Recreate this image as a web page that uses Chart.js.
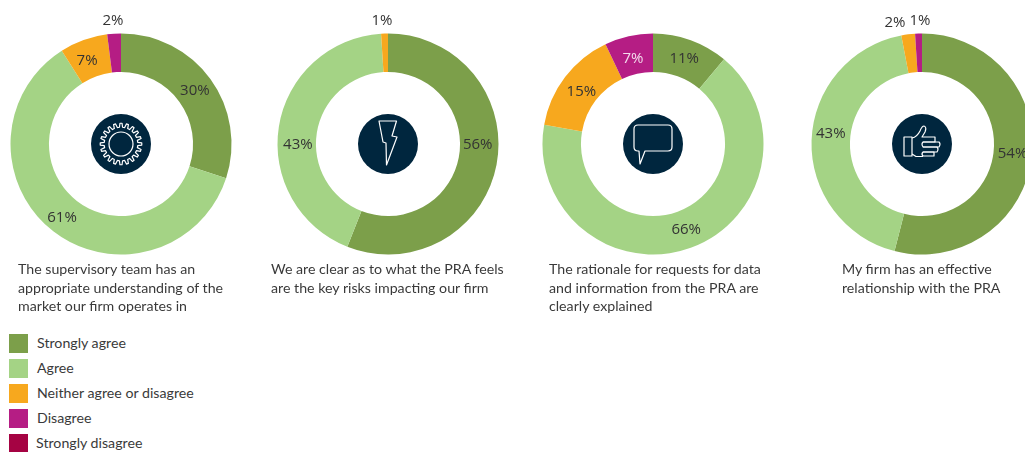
<!DOCTYPE html>
<html>
<head>
<meta charset="utf-8">
<script src="https://cdn.jsdelivr.net/npm/chart.js@4/dist/chart.umd.min.js"></script>
<style>
    html, body { margin: 0; padding: 0; background: #fff; }
    body { position: relative; width: 1025px; height: 452px; overflow: hidden; }
    .box { position: absolute; top: 0; width: 288px; height: 288px; }
    .icon { position: absolute; top: 114px; width: 60px; height: 60px; }
    .caption { position: absolute; top: 260px; font: 14.2px/18.7px Lato, sans-serif; color: #3a3a3a; white-space: pre; }
    .swatch { position: absolute; left: 9px; width: 19px; height: 19px; }
    .legendText { position: absolute; left: 37px; font: 14.2px/19px Lato, sans-serif; color: #3a3a3a; white-space: pre; }
</style>
</head>
<body>
<script>
const answers = ['Strongly agree', 'Agree', 'Neither agree or disagree', 'Disagree', 'Strongly disagree'];
const colors = ['#7c9f4a', '#a4d385', '#f7a81e', '#b51d84', '#a50343'];

const understandingValues = [30, 61, 7, 2, 0];
const risksValues = [56, 43, 1, 0, 0];
const rationaleValues = [11, 66, 15, 7, 0];
const relationshipValues = [54, 43, 2, 1, 0];

const captions = [
    'The supervisory team has an\nappropriate understanding of the\nmarket our firm operates in',
    'We are clear as to what the PRA feels\nare the key risks impacting our firm',
    'The rationale for requests for data\nand information from the PRA are\nclearly explained',
    'My firm has an effective\nrelationship with the PRA'
];

// gear outline for the first icon
function gearPath() {
    const teeth = 20;
    let d = '';
    for (let i = 0; i < teeth; i++) {
        const step = Math.PI * 2 / teeth;
        const a = i * step;
        const pts = [[16.8, a - step * 0.3], [20.8, a - step * 0.16], [20.8, a + step * 0.16], [16.8, a + step * 0.3]];
        pts.forEach((p, j) => {
            d += (i === 0 && j === 0 ? 'M' : 'L') + (p[0] * Math.cos(p[1])).toFixed(2) + ',' + (p[0] * Math.sin(p[1])).toFixed(2);
        });
    }
    return d + 'Z';
}

const icons = [
    `<path d="${gearPath()}"/><circle r="12"/>`,
    '<path d="M-9,-23 L8.5,-23 L4,-8 L9,-7 L-1.5,21 L-2,-1 L-5,-2 Z"/>',
    '<path d="M-15,-19 H15 Q19,-19 19,-15 V3 Q19,7 15,7 H-8 L-13,20 L-14,7 H-15 Q-19,7 -19,3 V-15 Q-19,-19 -15,-19 Z"/>',
    '<path d="M-18,-7 H-10 V12 H-18 Z"/>' +
    '<path d="M-10,-6 Q-5,-7 -2,-13 Q0,-18 2,-18 Q5,-17 3,-12 L0,-7 H13 V-2 H1"/>' +
    '<path d="M1,-2 H17 Q19,0 17,3 H1 Q-1,0 1,-2 Z"/>' +
    '<path d="M1,3 H15 Q17,5 15,8 H1"/>' +
    '<path d="M1,8 H12 V12 H1 Q-1,10 1,8 Z"/>' +
    '<path d="M-10,10 L-6,12.5 H1"/>'
];

// label nudges in pixels from the middle of each slice
const charts = [
    { cx: 121, values: understandingValues, nudges: [[0, 0], [-3, 2], [-3, 3]], outside: [null, null, null, [-8, -123]] },
    { cx: 388, values: risksValues, nudges: [[0, -16], [0, 15]], outside: [null, null, [-6, -123]] },
    { cx: 653, values: rationaleValues, nudges: [[0, 1], [2, 0], [1, 3], [0, 4]], outside: [] },
    { cx: 922, values: relationshipValues, nudges: [[0, -2], [0, -7]], outside: [null, null, [-27, -121], [-2, -123]] }
];

const sliceLabels = {
    id: 'sliceLabels',
    afterDatasetsDraw(chart, args, opts) {
        const ctx = chart.ctx;
        const meta = chart.getDatasetMeta(0);
        ctx.save();
        ctx.font = '15px "Open Sans", sans-serif';
        ctx.textAlign = 'center';
        ctx.textBaseline = 'middle';
        meta.data.forEach((arc, i) => {
            const v = chart.data.datasets[0].data[i];
            if (!v) return;
            let pos = arc.tooltipPosition();
            let x = pos.x + (opts.nudges[i] ? opts.nudges[i][0] : 0);
            let y = pos.y + (opts.nudges[i] ? opts.nudges[i][1] : 0);
            if (opts.outside[i]) {
                x = arc.x + opts.outside[i][0];
                y = arc.y + opts.outside[i][1];
            }
            // the one label sitting on the magenta slice is light
            ctx.fillStyle = (i === 3 && !opts.outside[i]) ? '#f3dcec' : '#333333';
            ctx.fillText(v + '%', x, y);
        });
        ctx.restore();
    }
};

charts.forEach((c, n) => {
    const box = document.createElement('div');
    box.className = 'box';
    box.style.left = (c.cx - 144) + 'px';
    const canvas = document.createElement('canvas');
    box.appendChild(canvas);
    document.body.appendChild(box);

    new Chart(canvas.getContext('2d'), {
        type: 'doughnut',
        data: {
            labels: answers,
            datasets: [{ data: c.values, backgroundColor: colors, borderWidth: 0 }]
        },
        options: {
            responsive: true,
            maintainAspectRatio: false,
            animation: false,
            radius: 110.5,
            cutout: '65.2%',
            plugins: {
                legend: { display: false },
                tooltip: { enabled: false },
                sliceLabels: { nudges: c.nudges, outside: c.outside }
            }
        },
        plugins: [sliceLabels]
    });

    const icon = document.createElement('div');
    icon.className = 'icon';
    icon.style.left = (c.cx - 30) + 'px';
    icon.innerHTML = `<svg width="60" height="60" viewBox="-30 -30 60 60"><circle r="30" fill="#00263e"/><g fill="none" stroke="#fff" stroke-width="1.2" stroke-linejoin="round">${icons[n]}</g></svg>`;
    document.body.appendChild(icon);
});

// captions under the rings
const captionLeft = [18, 271, 549, 842];
captions.forEach((text, i) => {
    const el = document.createElement('div');
    el.className = 'caption';
    el.style.left = captionLeft[i] + 'px';
    el.textContent = text;
    document.body.appendChild(el);
});

// legend
answers.forEach((name, i) => {
    const sw = document.createElement('div');
    sw.className = 'swatch';
    sw.style.top = (334 + i * 25) + 'px';
    sw.style.background = colors[i];
    document.body.appendChild(sw);
    const el = document.createElement('div');
    el.className = 'legendText';
    el.style.top = (333 + i * 25) + 'px';
    if (i === 4) el.style.left = '36px';
    el.textContent = name;
    document.body.appendChild(el);
});
</script>
</body>
</html>
